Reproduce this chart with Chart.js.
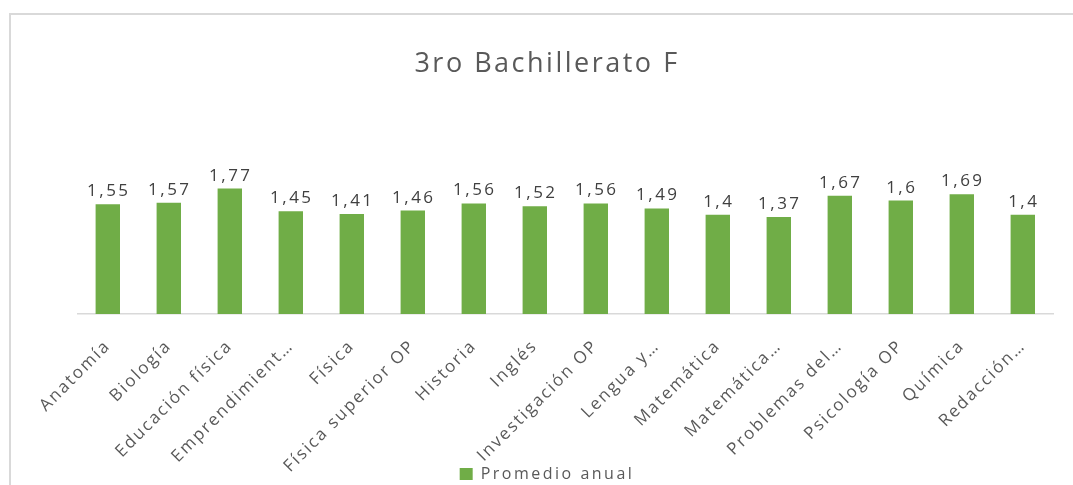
<!DOCTYPE html>
<html><head><meta charset="utf-8">
<script src="https://cdn.jsdelivr.net/npm/chart.js@4/dist/chart.umd.min.js"></script>
<style>
html,body{margin:0;padding:0;background:#fff;overflow:hidden;width:1073px;height:485px;}
#wrap{position:absolute;left:9px;top:13px;width:1076px;height:479px;border-left:2px solid #d9d9d9;border-top:2px solid #d9d9d9;box-sizing:border-box;}
canvas{display:block;}
</style></head>
<body>
<div id="wrap"><canvas id="c" width="1074" height="477"></canvas></div>
<script>
const categories = ["Anatomía","Biología","Educación física","Emprendimient…","Física","Física superior OP","Historia","Inglés","Investigación OP","Lengua y…","Matemática","Matemática…","Problemas del…","Psicología OP","Química","Redacción…"];
const promedioAnual = [1.55,1.57,1.77,1.45,1.41,1.46,1.56,1.52,1.56,1.49,1.4,1.37,1.67,1.6,1.69,1.4];
const seriesName = "Promedio anual";
const chartTitle = "3ro Bachillerato F";

const FONT = "'Open Sans', sans-serif";
const SPACING = '2.5px';
const TICK_SPACING = '2px';
const spacingPlugin = {
  id:'spacing',
  beforeInit(chart){ chart.ctx.letterSpacing = SPACING; },
  beforeUpdate(chart){ chart.ctx.letterSpacing = SPACING; },
  afterLayout(chart){
    chart.ctx.letterSpacing = SPACING;
    const s = chart.scales.x;
    if (!s._wrapped){
      const orig = s.drawLabels;
      s._computeLabelArea = function(){ return undefined; };
      s.drawLabels = function(area){
        const ctx = this.ctx;
        ctx.save();
        ctx.letterSpacing = TICK_SPACING;
        orig.call(this, area);
        ctx.restore();
      };
      s._wrapped = true;
    }
  },
  beforeDraw(chart){ chart.ctx.letterSpacing = SPACING; }
};
const valueLabels = {
  id:'valueLabels',
  afterDatasetsDraw(chart){
    const ctx = chart.ctx;
    const meta = chart.getDatasetMeta(0);
    ctx.save();
    ctx.font = "17px " + FONT;
    ctx.fillStyle = "#404040";
    ctx.textAlign = "center";
    ctx.textBaseline = "alphabetic";
    meta.data.forEach((bar,i)=>{
      const txt = String(promedioAnual[i]).replace('.',',');
      ctx.fillText(txt, bar.x + 1, bar.y - 8);
    });
    ctx.restore();
  }
};
const hiddenAxis = (pos, w) => ({
  display:true, position:pos, min:0, max:3,
  grid:{display:false}, border:{display:false}, ticks:{display:false},
  afterFit(s){ s.width = w; }
});

new Chart(document.getElementById('c'),{
  type:'bar',
  data:{labels:categories,datasets:[{label:seriesName,data:promedioAnual,backgroundColor:'#70AD47',borderWidth:0,barPercentage:0.40,categoryPercentage:1,yAxisID:'y'}]},
  options:{
    responsive:false,animation:false,
    layout:{padding:{left:10,right:12,top:0,bottom:0}},
    plugins:{
      title:{display:true,text:chartTitle,color:'#595959',font:{family:FONT,size:27,weight:'normal'},padding:{top:33,bottom:21}},
      legend:{position:'bottom',labels:{color:'#595959',font:{family:FONT,size:16},boxWidth:13,boxHeight:12,padding:4}},
      tooltip:{enabled:false}
    },
    scales:{
      y:hiddenAxis('left',56.3),
      y2:hiddenAxis('right',19.7),
      x:{grid:{display:false},border:{display:true,color:'#d9d9d9',width:1.5},
         ticks:{color:'#595959',font:{family:FONT,size:17},minRotation:45,maxRotation:45,padding:14,labelOffset:0},
         afterFit(s){ s.height = 148; }
      }
    }
  },
  plugins:[spacingPlugin,valueLabels]
});
</script>
</body></html>
